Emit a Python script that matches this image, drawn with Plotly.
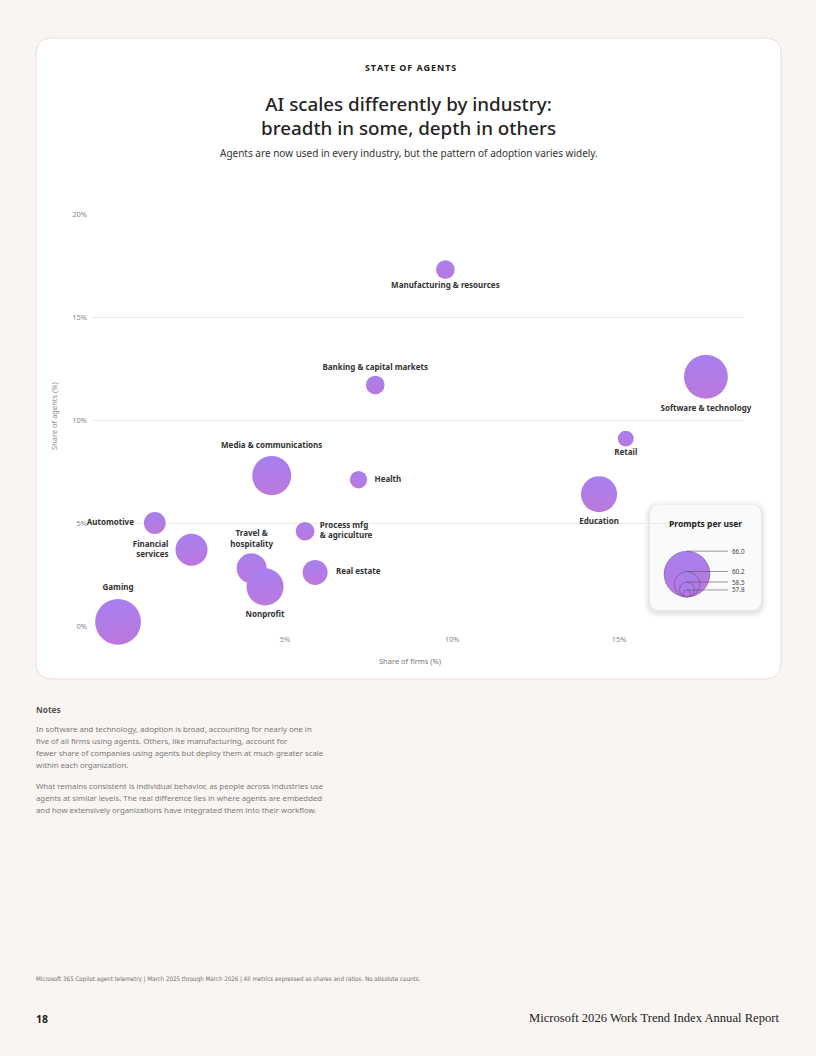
import plotly.graph_objects as go
import numpy as np

# page geometry (px) -- plot area sits inside a rounded card
W, H = 816, 1056
ML, MR, MT, MB = 92, 72, 214, 430
PW, PH = W - ML - MR, H - MT - MB

industries = [
    "Manufacturing & resources", "Banking & capital markets", "Software & technology",
    "Retail", "Health", "Education", "Media & communications", "Automotive",
    "Financial<br>services", "Process mfg<br>& agriculture", "Travel &<br>hospitality",
    "Nonprofit", "Real estate", "Gaming",
]
share_firms = [9.8, 7.7, 17.6, 15.2, 7.2, 14.4, 4.6, 1.1, 2.2, 5.6, 4.0, 4.4, 5.9, 0.0]
share_agents = [17.3, 11.7, 12.1, 9.1, 7.1, 6.4, 7.3, 5.0, 3.7, 4.6, 2.8, 1.9, 2.6, 0.2]
prompts_per_user = [59.0, 59.0, 65.3, 58.6, 58.8, 62.8, 63.7, 59.5, 61.7, 59.0, 61.2, 63.1, 60.1, 66.0]

legend_values = [66.0, 60.2, 58.5, 57.8]

x_ticks = [5, 10, 15]
y_ticks = [0, 5, 10, 15, 20]

# label placement: (position, extra gap in nbsp)
label_pos = [
    ("bottom center", 0), ("top center", 0), ("bottom center", 0), ("bottom center", 0),
    ("middle right", 2), ("bottom center", 0), ("top center", 0), ("middle left", 3),
    ("middle left", 1), ("middle right", 1), ("top center", 0), ("bottom center", 0),
    ("middle right", 2), ("top center", 0),
]

notes_p1 = [
    "In software and technology, adoption is broad, accounting for nearly one in",
    "five of all firms using agents. Others, like manufacturing, account for",
    "fewer share of companies using agents but deploy them at much greater scale",
    "within each organization.",
]
notes_p2 = [
    "What remains consistent is individual behavior, as people across industries use",
    "agents at similar levels. The real difference lies in where agents are embedded",
    "and how extensively organizations have integrated them into their workflow.",
]

FONT = "Noto Sans"
BG = "#F8F5F2"
BUBBLE = "#A77FEE"
BUBBLE_END = "#BC78DD"


def bubble_px(v):
    # area grows with prompts above a floor
    return np.sqrt(250 * (np.asarray(v) - 57.6))


def px(x, y):
    return (x - ML) / PW, (H - MB - y) / PH


def rounded_rect(x0, y0, x1, y1, r):
    a0, b0 = px(x0, y0)
    a1, b1 = px(x1, y1)
    rx, ry = r / PW, r / PH
    return (f"M{a0+rx},{b0} L{a1-rx},{b0} Q{a1},{b0} {a1},{b0-ry} "
            f"L{a1},{b1+ry} Q{a1},{b1} {a1-rx},{b1} L{a0+rx},{b1} "
            f"Q{a0},{b1} {a0},{b1+ry} L{a0},{b0-ry} Q{a0},{b0} {a0+rx},{b0} Z")


def pad_label(name, pos, n):
    if n == 0:
        return name
    sp = "\u00a0" * n
    lines = name.split("<br>")
    if pos.endswith("left"):
        return "<br>".join(l + sp for l in lines)
    return "<br>".join(sp + l for l in lines)


labels = [pad_label(n, p, g) for n, (p, g) in zip(industries, label_pos)]

fig = go.Figure()

fig.add_trace(go.Scatter(
    x=share_firms, y=share_agents, mode="markers+text",
    text=labels, textposition=[p for p, _ in label_pos],
    textfont=dict(family=FONT, size=8, color="#333333", weight="bold"),
    marker=dict(size=bubble_px(prompts_per_user), sizemode="diameter", opacity=1,
                color=BUBBLE, line=dict(width=0),
                gradient=dict(type="vertical", color=BUBBLE_END)),
    cliponaxis=False, hoverinfo="skip", showlegend=False,
))

# size legend drawn on its own small pixel-scaled axes
leg_d = bubble_px(legend_values)
fig.add_trace(go.Scatter(
    x=[27] * len(legend_values), y=leg_d / 2, mode="markers",
    marker=dict(size=leg_d, sizemode="diameter", color=BUBBLE, opacity=1,
                line=dict(width=0.6, color="rgba(60,40,90,0.6)"),
                gradient=dict(type="vertical", color=BUBBLE_END)),
    xaxis="x2", yaxis="y2", cliponaxis=False, hoverinfo="skip", showlegend=False,
))
for v, d in zip(legend_values, leg_d):
    fig.add_trace(go.Scatter(
        x=[27, 68], y=[d, d], mode="lines",
        line=dict(color="#555555", width=0.6),
        xaxis="x2", yaxis="y2", cliponaxis=False, hoverinfo="skip", showlegend=False,
    ))

shapes = [
    dict(type="path", xref="paper", yref="paper", path=rounded_rect(36, 38, 781, 679, 16),
         fillcolor="white", line=dict(color="#EEDDD9", width=1), layer="below"),
]
for i, a in enumerate([0.025, 0.03, 0.04]):
    g = 6 - 2 * i
    shapes.append(dict(type="path", xref="paper", yref="paper",
                       path=rounded_rect(650 - g, 505 - g + 2, 761 + g, 610 + g + 2, 10 + g),
                       fillcolor=f"rgba(0,0,0,{a})", line=dict(width=0), layer="below"))
shapes.append(dict(type="path", xref="paper", yref="paper",
                   path=rounded_rect(650, 505, 761, 610, 10),
                   fillcolor="#FAFAFA", line=dict(width=0), layer="below"))

ann = []


def add_text(x, y, s, size, color, anchor="center", weight="normal", family=FONT, **kw):
    ax, ay = px(x, y)
    ann.append(dict(x=ax, y=ay, xref="paper", yref="paper", text=s, showarrow=False,
                    xanchor=anchor, yanchor="middle",
                    font=dict(family=family, size=size, color=color, weight=weight), **kw))


add_text(410, 68, "\u200a".join("STATE OF AGENTS"), 9, "#222222", weight="bold")
add_text(408, 116, "AI scales differently by industry:<br>breadth in some, depth in others",
         18.8, "#242424", weight=500)
add_text(409, 153, "Agents are now used in every industry, but the pattern of adoption varies widely.",
         10, "#333333")
add_text(410, 661, "Share of firms (%)", 7.5, "#777777")
add_text(54, 416, "Share of agents (%)", 7.5, "#888888", textangle=-90)
add_text(705, 523, "Prompts per user", 8.5, "#222222", weight="bold")

for v, d in zip(legend_values, leg_d):
    ann.append(dict(x=70, y=d, xref="x2", yref="y2", text=f"{v:.1f}", showarrow=False,
                    xanchor="left", yanchor="middle",
                    font=dict(family=FONT, size=6.3, color="#444444")))

add_text(34, 709, "Notes", 8.3, "#555555", anchor="left", weight="bold")
for i, line in enumerate(notes_p1):
    add_text(34, 729 + 12 * i, line, 7.8, "#7A7A7A", anchor="left")
for i, line in enumerate(notes_p2):
    add_text(34, 786 + 12 * i, line, 7.8, "#7A7A7A", anchor="left")

add_text(34, 979, "Microsoft 365 Copilot agent telemetry | March 2025 through March 2026 | "
         "All metrics expressed as shares and ratios. No absolute counts.", 6.2,
         "#707070", anchor="left", family="Liberation Sans Narrow, DejaVu Sans Condensed, Noto Sans")
add_text(34, 1019, "18", 10.5, "#222222", anchor="left", weight="bold")
add_text(781, 1018, "Microsoft 2026 Work Trend Index Annual Report", 12.6, "#222222",
         anchor="right", family="Liberation Serif")

fig.update_layout(
    width=W, height=H,
    margin=dict(l=ML, r=MR, t=MT, b=MB),
    paper_bgcolor=BG, plot_bgcolor="rgba(0,0,0,0)",
    shapes=shapes, annotations=ann,
    xaxis=dict(range=[-0.78, 18.74], tickvals=x_ticks, ticktext=[f"{t}%" for t in x_ticks],
               showgrid=False, zeroline=False, showline=False, ticks="",
               ticklabelstandoff=7,
               tickfont=dict(family=FONT, size=7.5, color="#888888")),
    yaxis=dict(range=[0, 20], tickvals=y_ticks, ticktext=[f"{t}%" for t in y_ticks],
               showgrid=True, gridcolor="#EBEBEB", gridwidth=1, zeroline=False,
               showline=False, ticks="", ticklabelstandoff=4,
               tickfont=dict(family=FONT, size=7.5, color="#888888")),
    xaxis2=dict(domain=[(660 - ML) / PW, 1.0], range=[0, 744 - 660], anchor="y2",
                visible=False, fixedrange=True),
    yaxis2=dict(domain=[px(0, 597)[1], px(0, 550)[1]], range=[0, 47], anchor="x2",
                visible=False, fixedrange=True),
)

fig.write_html("out.html", config={"displayModeBar": False},
               post_script=f"document.body.style.margin='0';"
                           f"document.body.style.background='{BG}';")
